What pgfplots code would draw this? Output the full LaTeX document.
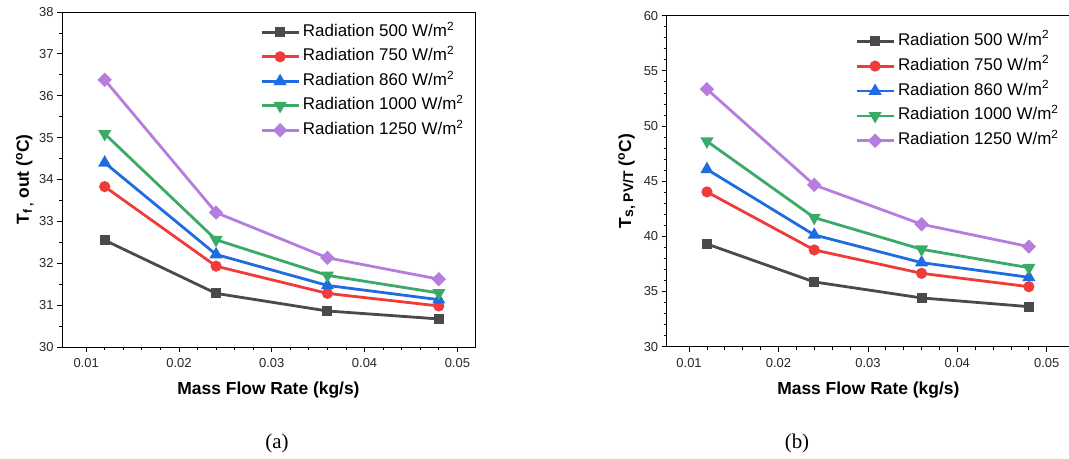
\documentclass[border=0pt]{standalone}
\usepackage{fontspec}
\setmainfont{Liberation Sans}
\newfontfamily\seriffont{Liberation Serif}
\usepackage{pgfplots}
\pgfplotsset{compat=1.18}
\definecolor{cBlack}{HTML}{4A4A4A}
\definecolor{cRed}{HTML}{F03B3B}
\definecolor{cBlue}{HTML}{1F6BE0}
\definecolor{cGreen}{HTML}{3AAA66}
\definecolor{cPurple}{HTML}{B47DDE}

\pgfplotsset{
  panel/.style={
    scale only axis,
    axis line style={black,line width=0.9bp},
    tick pos=left, tick align=outside,
    major tick length=5bp, minor tick length=3bp,
    every tick/.style={black,line width=0.8bp},
    xtick={0.01,0.02,0.03,0.04,0.05},
    xticklabels={0.01,0.02,0.03,0.04,0.05},
    scaled x ticks=false,
    minor x tick num=4,
    tick label style={font=\fontsize{13}{13}\selectfont,text=black!85},
    /pgf/number format/assume math mode=true,
    xticklabel style={yshift=-3bp},
    every axis x label/.style={at={(axis description cs:0.5,0)},anchor=center,yshift=-43bp,
      font=\bfseries\fontsize{17.5}{17.5}\selectfont},
    legend style={draw=none,fill=none,font=\fontsize{17}{17}\selectfont,
      inner sep=0pt,anchor=north west,column sep=3bp,row sep=8.5bp,
      nodes={inner sep=0pt,text height=12bp,text depth=4bp}},
    legend cell align=left,
    legend image code/.code={\draw[mark repeat=2,mark phase=2] plot coordinates {(0bp,0bp)(18.5bp,0bp)(37bp,0bp)};},
    every axis plot/.append style={line width=2.8bp},
  },
  s500/.style={cBlack,mark=square*,mark size=3.6bp,mark options={solid}},
  s750/.style={cRed,mark=*,mark size=4.1bp,mark options={solid}},
  s860/.style={cBlue,mark=triangle*,mark size=4.8bp,mark options={solid}},
  s1000/.style={cGreen,mark=triangle*,mark size=4.8bp,mark options={solid,rotate=180}},
  s1250/.style={cPurple,mark=square*,mark size=3.7bp,mark options={solid,rotate=45}},
}

\begin{document}
\begin{tikzpicture}
\useasboundingbox (0,0) rectangle (1069bp,459bp);

% (a) outlet fluid temperature
\begin{axis}[panel,
  at={(62bp,112bp)},anchor=south west,width=413bp,height=335bp,
  xmin=0.0074,xmax=0.0519,ymin=30,ymax=38,
  ytick={30,31,32,33,34,35,36,37,38},minor y tick num=1,
  xlabel={Mass Flow Rate (kg/s)},
  ylabel={T\raisebox{-3bp}{\fontsize{12}{12}\selectfont f ,} out (\textsuperscript{o}C)},
  every axis y label/.style={at={(axis description cs:0,0.5)},xshift=-37bp,rotate=90,anchor=center,
    font=\bfseries\fontsize{17.5}{17.5}\selectfont},
  legend style={at={(axis description cs:0.4794,0.964)}},
]
\addplot[s500] coordinates {(0.012,32.55)(0.024,31.28)(0.036,30.86)(0.048,30.67)};
\addlegendentry{Radiation 500 W/m\textsuperscript{2}}
\addplot[s750] coordinates {(0.012,33.83)(0.024,31.93)(0.036,31.28)(0.048,30.98)};
\addlegendentry{Radiation 750 W/m\textsuperscript{2}}
\addplot[s860] coordinates {(0.012,34.40)(0.024,32.21)(0.036,31.47)(0.048,31.13)};
\addlegendentry{Radiation 860 W/m\textsuperscript{2}}
\addplot[s1000] coordinates {(0.012,35.09)(0.024,32.56)(0.036,31.71)(0.048,31.29)};
\addlegendentry{Radiation 1000 W/m\textsuperscript{2}}
\addplot[s1250] coordinates {(0.012,36.38)(0.024,33.21)(0.036,32.13)(0.048,31.62)};
\addlegendentry{Radiation 1250 W/m\textsuperscript{2}}
\end{axis}

% (b) PV/T surface temperature
\begin{axis}[panel,
  at={(666.7bp,112.3bp)},anchor=south west,width=403.3bp,height=331bp,
  xmin=0.0075,xmax=0.0526,ymin=30,ymax=60,
  ytick={30,35,40,45,50,55,60},minor y tick num=4,
  xlabel={Mass Flow Rate (kg/s)},
  ylabel={T\raisebox{-2bp}{\fontsize{14}{14}\selectfont s, PV/T} (\textsuperscript{o}C)},
  every axis y label/.style={at={(axis description cs:0,0.5)},xshift=-40bp,rotate=90,anchor=center,
    font=\bfseries\fontsize{17.5}{17.5}\selectfont},
  legend style={at={(axis description cs:0.4669,0.9477)},row sep=8.9bp},
]
\addplot[s500] coordinates {(0.012,39.31)(0.024,35.87)(0.036,34.42)(0.048,33.63)};
\addlegendentry{Radiation 500 W/m\textsuperscript{2}}
\addplot[s750] coordinates {(0.012,44.03)(0.024,38.77)(0.036,36.65)(0.048,35.44)};
\addlegendentry{Radiation 750 W/m\textsuperscript{2}}
\addplot[s860] coordinates {(0.012,46.08)(0.024,40.13)(0.036,37.62)(0.048,36.29)};
\addlegendentry{Radiation 860 W/m\textsuperscript{2}}
\addplot[s1000] coordinates {(0.012,48.62)(0.024,41.70)(0.036,38.83)(0.048,37.16)};
\addlegendentry{Radiation 1000 W/m\textsuperscript{2}}
\addplot[s1250] coordinates {(0.012,53.34)(0.024,44.66)(0.036,41.10)(0.048,39.07)};
\addlegendentry{Radiation 1250 W/m\textsuperscript{2}}
\end{axis}

\node[font=\seriffont\fontsize{21}{21}\selectfont] at (277bp,16bp) {(a)};
\node[font=\seriffont\fontsize{21}{21}\selectfont] at (797bp,16bp) {(b)};
\end{tikzpicture}
\end{document}
